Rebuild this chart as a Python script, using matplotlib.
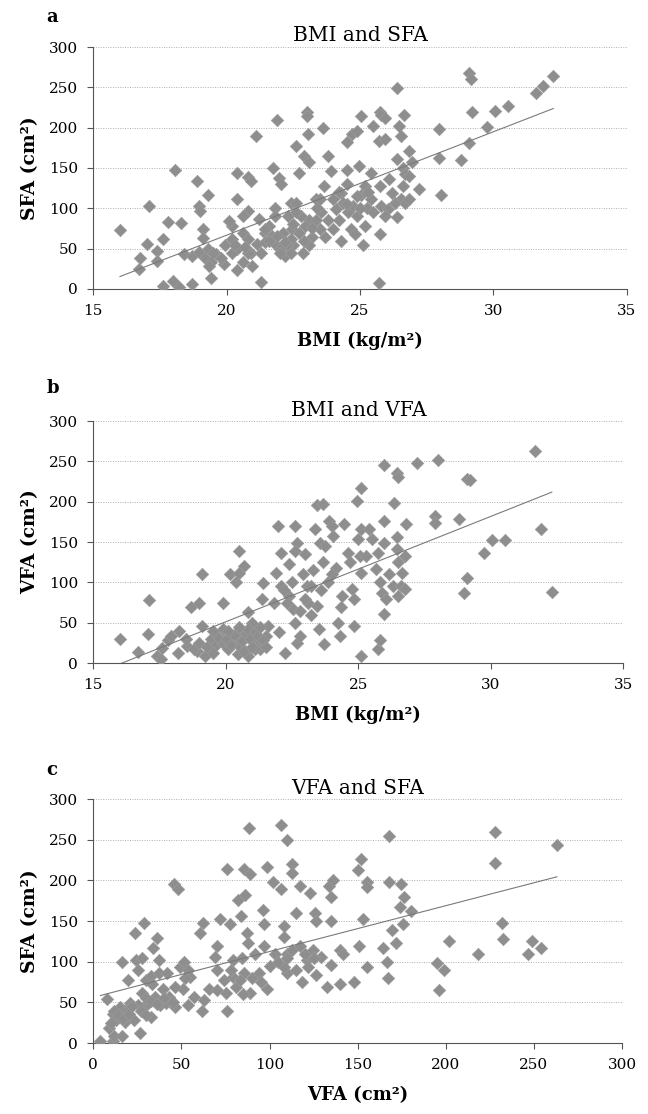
import matplotlib
matplotlib.use("Agg")
import matplotlib.pyplot as plt
import numpy as np

plt.rcParams['font.family'] = ['DejaVu Serif']

# panel a: BMI vs SFA
bmi_a = [16.0, 17.1, 16.7, 16.75, 17.0, 17.4, 17.6, 17.4, 17.8, 18.3, 18.05, 17.6, 18.0, 18.2, 18.7,
         18.9, 18.95, 19.3, 19.1, 19.1, 19.0, 18.4, 18.7, 18.95, 19.2, 19.4, 19.3, 19.6, 19.35, 19.4,
         19.9, 19.95, 20.4, 20.4, 20.2, 20.4, 20.6, 20.4, 20.8, 20.9, 20.8, 20.6, 20.1, 20.2, 20.6,
         20.8, 20.9, 21.1, 21.3, 21.2, 21.3, 21.45, 21.15, 21.9, 21.75, 21.95, 22.05, 21.8, 21.6, 21.85,
         22.1, 22.2, 22.4, 22.6, 22.7, 22.9, 23.0, 23.0, 23.05, 23.1, 23.1, 23.2, 22.85, 22.5, 22.45,
         22.8, 22.3, 23.35, 23.6, 23.8, 23.9, 23.65, 23.5, 23.55, 23.8, 23.5, 23.7, 24.0, 24.1, 24.3,
         24.3, 24.5, 24.5, 24.5, 24.55, 24.65, 24.8, 24.7, 24.9, 25.05, 24.95, 25.05, 25.1, 25.2, 25.25,
         25.4, 25.5, 25.7, 25.75, 25.7, 25.75, 25.8, 25.95, 25.95, 25.75, 25.8, 26.05, 25.95, 26.1, 26.4,
         26.4, 26.4, 26.45, 26.55, 26.6, 26.7, 26.6, 26.55, 26.7, 26.85, 26.65, 26.85, 26.95, 26.85, 27.2,
         27.95, 27.95, 28.05, 28.8, 29.1, 29.1, 29.15, 29.2, 29.75, 30.05, 30.55, 31.6, 31.85, 32.25,
         21.45, 21.7, 22.4, 22.7, 22.95, 23.35, 22.4, 22.25, 23.1, 22.6, 24.2, 24.35, 24.75, 24.9, 24.9,
         25.4, 25.5, 21.45, 22.0, 20.8, 20.95, 20.2, 24.0, 25.2, 26.2, 26.3,
         21.6, 21.9, 22.2, 22.5, 22.9, 23.2, 21.8, 22.6, 23.4, 22.0, 24.5, 25.0, 24.2, 25.3,
         19.5, 19.8, 20.3, 20.7]
sfa_a = [73, 103, 25, 38, 56, 47, 62, 35, 83, 82, 148, 4, 10, 3, 6,
         134, 103, 117, 74, 63, 97, 43, 41, 46, 39, 33, 49, 43, 29, 14,
         31, 54, 112, 49, 78, 23, 33, 144, 139, 134, 97, 91, 84, 62, 70,
         62, 45, 190, 9, 87, 45, 70, 56, 209, 150, 138, 130, 101, 78, 54,
         70, 41, 107, 177, 144, 165, 220, 214, 192, 157, 86, 64, 45, 54, 74,
         91, 91, 111, 199, 165, 146, 128, 111, 95, 86, 74, 64, 111, 99, 60,
         119, 182, 148, 130, 95, 74, 68, 192, 196, 214, 152, 117, 54, 78, 101,
         144, 202, 8, 68, 184, 220, 216, 212, 186, 128, 103, 99, 91, 136, 161,
         89, 249, 202, 190, 150, 142, 128, 111, 107, 111, 216, 171, 158, 140, 124,
         198, 163, 117, 160, 181, 268, 260, 219, 201, 221, 227, 243, 252, 264,
         74, 66, 62, 70, 78, 86, 45, 54, 54, 107, 86, 107, 103, 91, 115,
         111, 95, 58, 49, 45, 29, 45, 74, 128, 119, 107,
         60, 66, 58, 80, 60, 75, 90, 95, 100, 45, 105, 100, 120, 120,
         45, 38, 55, 52]

# panel b: BMI vs VFA
bmi_b = [16.0, 16.7, 17.1, 17.05, 17.4, 17.55, 17.6, 17.8, 17.95, 18.25, 18.2, 18.55, 18.7, 19.0, 19.1,
         19.1, 18.9, 19.2, 19.45, 19.6, 19.9, 19.9, 20.1, 20.15, 20.4, 20.5, 20.7, 20.5, 20.45, 20.4,
         20.45, 20.7, 20.85, 21.0, 21.15, 21.3, 21.5, 21.4, 21.35, 21.6, 21.8, 21.95, 22.1, 21.9, 22.1,
         22.0, 22.25, 22.4, 22.6, 22.7, 22.6, 22.4, 22.55, 22.6, 22.7, 22.8, 23.0, 23.05, 23.1, 23.2,
         23.35, 23.45, 23.65, 23.55, 23.75, 23.65, 23.45, 23.5, 23.7, 23.85, 23.9, 24.0, 24.05, 24.15, 24.25,
         24.3, 24.35, 24.4, 24.45, 24.6, 24.7, 24.75, 24.85, 24.85, 24.95, 25.1, 25.1, 25.0, 25.05, 25.1,
         25.1, 25.3, 25.4, 25.5, 25.65, 25.75, 25.75, 25.8, 25.8, 25.9, 25.95, 25.95, 25.95, 25.95, 26.05,
         26.15, 26.3, 26.35, 26.45, 26.5, 26.45, 26.45, 26.5, 26.5, 26.6, 26.65, 26.75, 26.75, 26.8, 27.2,
         28.0, 27.9, 27.9, 28.8, 29.1, 29.2, 29.0, 29.1, 29.75, 30.05, 30.55, 31.65, 31.9, 32.3,
         20.15, 20.55, 20.85, 21.1, 19.9, 21.1, 20.85,
         18.8, 19.0, 19.3, 19.5, 19.7, 20.0, 20.2, 20.3, 20.6, 20.7, 20.9, 21.0, 21.2, 21.4, 21.5,
         20.1, 20.5, 21.3, 19.5, 18.5,
         22.2, 22.5, 22.9, 23.2, 23.0, 22.3, 23.6, 24.0, 22.8, 23.3]
vfa_b = [30, 14, 78, 36, 9, 5, 19, 28, 34, 40, 13, 21, 69, 74, 110,
         46, 15, 9, 30, 21, 75, 25, 17, 111, 101, 139, 120, 112, 38, 25,
         11, 34, 63, 50, 25, 17, 34, 99, 79, 46, 75, 170, 137, 112, 96,
         38, 13, 123, 170, 149, 139, 83, 67, 50, 25, 34, 135, 96, 75, 59,
         166, 196, 197, 149, 145, 125, 71, 42, 24, 100, 176, 170, 158, 118, 50,
         34, 70, 83, 172, 137, 125, 92, 79, 46, 201, 217, 166, 154, 133, 112,
         9, 133, 166, 154, 116, 137, 17, 28, 100, 87, 246, 176, 149, 61, 79,
         110, 96, 199, 236, 231, 156, 141, 125, 83, 96, 112, 133, 92, 173, 248,
         252, 182, 174, 179, 228, 227, 87, 106, 137, 152, 152, 263, 166, 88,
         29, 21, 42, 38, 42, 17, 9,
         18, 25, 20, 13, 32, 30, 22, 35, 27, 15, 30, 20, 33, 28, 20,
         40, 45, 45, 40, 30,
         90, 100, 110, 95, 80, 75, 90, 110, 65, 115]

# panel c: VFA vs SFA
vfa_c = [4, 8, 9, 11, 12, 11, 13, 15, 16.5, 16.5, 18, 19.5, 21, 23, 23.5,
         24, 25.5, 26.5, 29, 27.5, 27.5, 29, 30, 31, 32.5, 34, 32.5, 36, 37, 35,
         37, 38, 39.5, 42, 43, 45.5, 48, 46.5, 49, 51, 51.5, 54, 55, 54, 57,
         60.5, 62, 61.5, 63, 65.5, 69, 70, 72, 70, 74, 75, 76, 76, 77.5, 79,
         81, 82, 84, 85.5, 86, 87, 87.5, 88.5, 89, 85.5, 89, 91.5, 94, 96, 97,
         98.5, 98.5, 97, 102, 103, 106.5, 106.5, 108, 110, 110, 110, 112.5, 112.5, 115, 117,
         118.5, 117, 121, 123, 125.5, 126.5, 126.5, 129, 132.5, 133.5, 135, 136, 135, 135, 140,
         140, 141.5, 148, 150, 152, 153, 151, 155, 155.5, 155.5, 164.5, 166.5, 167.5, 167.5, 167,
         169.5, 171.5, 174, 174.5, 176, 175.5, 180, 195, 196, 199, 202, 218.5, 228, 228, 232,
         232.5, 246.5, 249, 254, 263,
         16, 18, 21, 25.5, 30, 33.5, 41, 46.5, 79.5, 83, 84.5, 108, 112.5, 115, 122,
         124.5, 108,
         10, 12, 14, 17, 20, 22, 27, 30, 33, 36, 40, 45, 52, 85, 90, 100, 105, 110, 120, 125,
         70, 78, 95]
sfa_c = [3, 54, 18, 3, 9, 36, 28, 44, 100, 9, 40, 77, 49, 28, 135,
         102, 90, 12, 148, 104, 61, 44, 77, 49, 32, 117, 83, 129, 102, 57,
         86, 47, 67, 86, 57, 196, 190, 44, 94, 67, 100, 90, 81, 47, 57,
         135, 148, 40, 53, 67, 106, 119, 152, 90, 77, 61, 39, 214, 146, 102,
         69, 176, 156, 214, 182, 135, 123, 265, 208, 86, 61, 110, 86, 164, 146,
         216, 67, 119, 198, 110, 268, 190, 131, 250, 110, 86, 220, 209, 160, 193,
         75, 119, 102, 185, 160, 150, 84, 106, 69, 193, 180, 200, 150, 96, 115,
         73, 110, 75, 213, 226, 152, 119, 198, 192, 94, 117, 100, 254, 198, 80,
         139, 123, 167, 196, 180, 146, 162, 98, 65, 90, 125, 110, 259, 221, 148,
         128, 110, 125, 117, 243,
         32, 26, 44, 47, 55, 73, 49, 69, 81, 77, 104, 94, 114, 90, 94,
         114, 144,
         25, 40, 35, 30, 36, 45, 40, 35, 52, 48, 55, 50, 80, 60, 80, 95, 100, 105, 110, 104,
         65, 90, 75]

panels = [
    ("a", "BMI and SFA", bmi_a, sfa_a, "BMI (kg/m²)", "SFA (cm²)", (15, 35), 5),
    ("b", "BMI and VFA", bmi_b, vfa_b, "BMI (kg/m²)", "VFA (cm²)", (15, 35), 5),
    ("c", "VFA and SFA", vfa_c, sfa_c, "VFA (cm²)", "SFA (cm²)", (0, 300), 50),
]
boxes = [
    [0.144, 0.7406, 0.823, 0.2172],
    [0.144, 0.4048, 0.818, 0.2172],
    [0.144, 0.0637, 0.816, 0.2190],
]
letter_y = [0.9847, 0.6517, 0.3088]

fig = plt.figure(figsize=(6.48, 11.14), dpi=100)

for (letter, title, xs, ys, xlab, ylab, xlim, xstep), box, ly in zip(panels, boxes, letter_y):
    ax = fig.add_axes(box)
    xs = np.array(xs, dtype=float)
    ys = np.array(ys, dtype=float)
    ax.scatter(xs, ys, marker='D', s=40, color='#8e8e8e', edgecolors='#9a9a9a',
               linewidths=0.5, zorder=3)
    # least squares trend line
    k, b = np.polyfit(xs, ys, 1)
    xl = np.array([xs.min(), xs.max()])
    ax.plot(xl, k * xl + b, color='#7a7a7a', lw=0.8, zorder=4)

    ax.set_xlim(*xlim)
    ax.set_ylim(0, 300)
    ax.set_xticks(np.arange(xlim[0], xlim[1] + 1, xstep))
    ax.set_yticks(np.arange(0, 301, 50))
    ax.grid(axis='y', linestyle=(0, (1, 1.5)), color='#b0b0b0', lw=0.7)
    ax.set_axisbelow(True)
    for s in ['top', 'right']:
        ax.spines[s].set_visible(False)
    ax.spines['left'].set_color('#555555')
    ax.spines['bottom'].set_color('#555555')
    ax.tick_params(labelsize=11, length=4, color='#555555', direction='out')
    ax.tick_params(axis='x', pad=7)
    ax.tick_params(axis='y', pad=7)
    ax.set_title(title, fontsize=14.5, pad=4)
    ax.set_xlabel(xlab, fontsize=13, fontweight='bold', labelpad=10)
    ax.set_ylabel(ylab, fontsize=13.5, fontweight='bold', labelpad=7)
    fig.text(0.072, ly, letter, fontsize=13, fontweight='bold', va='center')

fig.savefig("out.png", dpi=100)
